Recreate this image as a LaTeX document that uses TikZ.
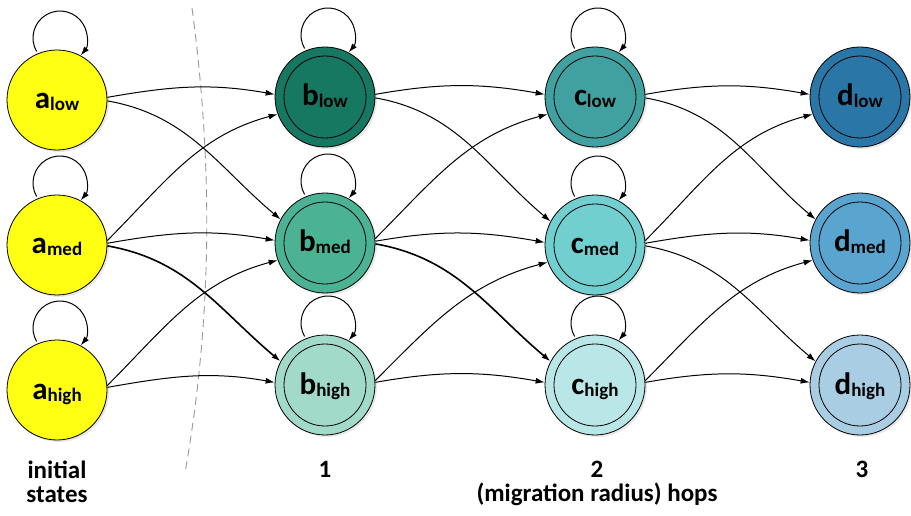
\documentclass[tikz,border=0pt]{standalone}
\usepackage{fontspec}
\setmainfont{Carlito}
\usetikzlibrary{arrows.meta,shadows}
\definecolor{bLow}{HTML}{177862}
\definecolor{bMed}{HTML}{4BB393}
\definecolor{bHigh}{HTML}{A2DACA}
\definecolor{cLow}{HTML}{41A1A1}
\definecolor{cMed}{HTML}{72CFCF}
\definecolor{cHigh}{HTML}{B9E7E7}
\definecolor{dLow}{HTML}{2A76A6}
\definecolor{dMed}{HTML}{5AA5D0}
\definecolor{dHigh}{HTML}{A9CEE4}
\definecolor{aYel}{HTML}{FFFF14}
\newcommand\nlab[2]{{\fontsize{31}{31}\selectfont #1}\raisebox{-2pt}{\fontsize{19}{19}\selectfont #2}}
\newcommand\selfloop[1]{\draw[edge] (#1.center) ++(3,62) ++(210:27) arc[start angle=210,end angle=-40,radius=27];}
\newcommand\inner[1]{\draw[line width=0.8pt] (#1.center) circle (41);}
\tikzset{
  st/.style={circle, draw=black, line width=0.8pt, minimum size=100pt, inner sep=0pt,
    font=\bfseries, text height=20pt, text depth=2pt,
    drop shadow={shadow xshift=2pt,shadow yshift=-2pt,opacity=0.18}, fill=#1},
  edge/.style={-{Latex[length=9pt,width=6pt]}, line width=1pt},
  thk/.style={line width=1.6pt},
  lbl/.style={font=\bfseries\fontsize{25}{25}\selectfont, inner sep=0pt},
  sep/.style={draw=black!40, line width=0.9pt, dash pattern=on 8pt off 5pt}
}
\begin{document}
\begin{tikzpicture}[x=1pt,y=1pt]
\useasboundingbox (0,0) rectangle (911,515);
\fill[white] (0,0) rectangle (911,515);
% separator
\draw[sep] (192,507) .. controls (215,335) and (210,185) .. (185,42);
% nodes
\node[st=aYel] (a-l) at (57,415) {\nlab{a}{low}};
\node[st=aYel] (a-m) at (57,270) {\nlab{a}{med}};
\node[st=aYel] (a-h) at (57,125) {\nlab{a}{high}};
\node[st=bLow] (b-l) at (325,418) {\nlab{b}{low}};
\node[st=bMed] (b-m) at (325,272) {\nlab{b}{med}};
\node[st=bHigh] (b-h) at (325,130) {\nlab{b}{high}};
\node[st=cLow] (c-l) at (595,418) {\nlab{c}{low}};
\node[st=cMed] (c-m) at (595,270) {\nlab{c}{med}};
\node[st=cHigh] (c-h) at (595,130) {\nlab{c}{high}};
\node[st=dLow] (d-l) at (860,418) {\nlab{d}{low}};
\node[st=dMed] (d-m) at (860,272) {\nlab{d}{med}};
\node[st=dHigh] (d-h) at (860,130) {\nlab{d}{high}};
\foreach \n in {b-l,b-m,b-h,c-l,c-m,c-h,d-l,d-m,d-h} {\inner{\n}}
% self loops
\foreach \n in {a-l,a-m,a-h,b-l,b-m,b-h,c-l,c-m,c-h} {\selfloop{\n}}
% transitions
\foreach \p/\q in {a/b,b/c,c/d} {
  \draw[edge] (\p-l.3) to[out=10,in=170] (\q-l.177);
  \draw[edge] (\p-l.-1) to[out=-10,in=140] (\q-m.152);
  \draw[edge] (\p-m.5) to[out=45,in=195] (\q-l.200);
  \draw[edge] (\p-m.2) to[out=10,in=170] (\q-m.177);
  \draw[edge] (\p-h.5) to[out=45,in=195] (\q-m.200);
  \draw[edge] (\p-h.3) to[out=10,in=170] (\q-h.177);
}
\draw[edge,thk] (a-m.-1) to[out=-10,in=140] (b-h.152);
\draw[edge,thk] (b-m.-1) to[out=-10,in=140] (c-h.152);
\draw[edge] (c-m.-1) to[out=-10,in=140] (d-h.152);
% bottom labels
\node[lbl] (t-init) at (57,45) {initial};
\node[lbl] (t-states) at (57,20) {states};
\node[lbl] (t-1) at (325,46) {1};
\node[lbl] (t-2) at (597,46) {2};
\node[lbl] (t-3) at (862,46) {3};
\node[lbl] (t-hops) at (597,21) {(migration radius) hops};
\end{tikzpicture}
\end{document}
